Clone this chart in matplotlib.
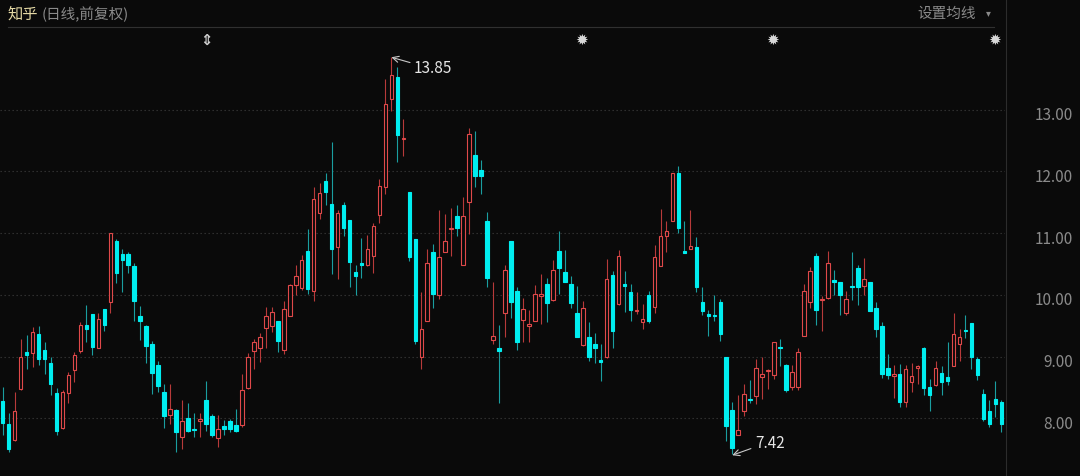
import matplotlib
matplotlib.use('Agg')
import matplotlib.pyplot as plt
from matplotlib.lines import Line2D
import matplotlib.transforms as mtransforms
import numpy as np

# ---------------- data ----------------
opens = [8.28, 7.90, 7.64, 8.48, 9.07, 9.05, 9.37, 9.10, 8.90, 8.41,
         7.84, 8.41, 8.78, 9.09, 9.51, 9.69, 9.14, 9.77, 9.89, 10.87,
         10.66, 10.66, 10.46, 9.65, 9.49, 9.20, 8.86, 8.42, 8.05, 8.14,
         7.69, 8.01, 7.83, 7.96, 8.29, 8.04, 7.68, 7.88, 7.96, 7.89,
         7.89, 8.49, 9.09, 9.13, 9.47, 9.50, 9.58, 9.11, 9.66, 10.16,
         10.11, 10.71, 10.06, 11.33, 11.84, 11.47, 10.77, 11.45, 11.22, 10.37,
         10.51, 10.48, 10.63, 11.30, 11.74, 13.17, 13.53, 12.52, 11.67, 10.91,
         9.00, 9.57, 10.69, 9.99, 10.70, 11.07, 11.28, 10.48, 11.50, 12.26,
         12.02, 11.19, 9.26, 9.13, 9.70, 10.88, 10.06, 9.59, 9.50, 9.58,
         9.98, 10.17, 9.91, 10.71, 10.37, 10.18, 9.71, 9.18, 9.32, 9.20,
         8.94, 9.00, 10.32, 9.85, 10.17, 10.04, 9.73, 9.56, 9.99, 9.81,
         10.47, 10.95, 11.20, 11.97, 10.71, 10.75, 10.77, 9.88, 9.69, 9.68,
         9.88, 8.99, 8.13, 7.73, 8.11, 8.31, 8.36, 8.66, 8.77, 8.70,
         9.16, 8.86, 8.50, 8.51, 9.34, 9.89, 10.63, 9.91, 9.95, 10.24,
         10.20, 9.70, 10.15, 10.44, 10.15, 10.20, 9.79, 9.49, 8.82, 8.69,
         8.71, 8.27, 8.59, 8.82, 9.13, 8.51, 8.53, 8.74, 8.67, 8.85,
         9.20, 9.42, 9.55, 8.96, 8.40, 8.12, 8.31, 8.26]
highs = [8.50, 8.09, 8.42, 9.28, 9.35, 9.48, 9.50, 9.24, 9.00, 8.49,
         8.45, 8.75, 9.07, 9.56, 9.83, 9.69, 9.70, 9.77, 11.00, 10.91,
         10.74, 10.70, 10.52, 9.82, 9.51, 9.25, 8.93, 8.55, 8.55, 8.15,
         8.30, 8.25, 8.08, 8.08, 8.61, 8.07, 8.05, 7.97, 7.99, 8.15,
         8.71, 9.06, 9.28, 9.38, 9.81, 9.80, 9.58, 9.90, 10.18, 10.48,
         10.65, 11.07, 11.74, 11.81, 11.98, 12.48, 11.38, 11.50, 11.22, 10.49,
         10.92, 10.97, 11.17, 11.87, 13.50, 13.85, 13.70, 12.85, 11.67, 10.91,
         10.05, 10.75, 10.83, 11.38, 11.31, 11.40, 11.46, 11.59, 12.70, 12.65,
         12.19, 11.34, 10.20, 9.51, 10.49, 10.88, 10.13, 9.95, 9.76, 10.16,
         10.34, 10.27, 10.56, 11.04, 10.73, 10.30, 10.14, 9.90, 9.56, 9.38,
         9.20, 10.58, 10.38, 10.73, 10.38, 10.18, 10.05, 9.85, 10.06, 10.81,
         11.39, 11.19, 11.98, 12.08, 11.19, 11.38, 10.94, 10.12, 9.76, 9.99,
         9.94, 8.99, 8.26, 8.37, 8.56, 8.62, 8.96, 9.00, 8.79, 9.24,
         9.29, 8.88, 8.87, 9.14, 10.18, 10.45, 10.67, 9.98, 10.71, 10.41,
         10.21, 10.06, 10.70, 10.49, 10.60, 10.20, 9.89, 9.56, 9.04, 8.86,
         8.88, 8.86, 8.89, 8.86, 9.16, 8.63, 8.93, 8.84, 9.24, 9.71,
         9.44, 9.68, 9.55, 8.99, 8.47, 8.29, 8.61, 8.30]
lows = [7.72, 7.46, 7.63, 8.46, 8.79, 8.83, 8.86, 8.71, 8.37, 7.72,
        7.83, 8.24, 8.59, 9.06, 9.24, 9.02, 9.14, 9.41, 9.71, 10.19,
        10.04, 10.36, 9.58, 9.26, 8.90, 8.40, 8.43, 7.84, 7.90, 7.45,
        7.50, 7.78, 7.69, 7.70, 7.79, 7.69, 7.54, 7.72, 7.78, 7.78,
        7.86, 8.48, 8.80, 8.91, 9.13, 9.40, 9.08, 9.04, 9.65, 10.00,
        10.08, 10.02, 9.90, 11.23, 11.45, 10.33, 10.25, 10.95, 10.13, 10.00,
        10.28, 10.47, 10.36, 11.16, 11.64, 12.98, 12.15, 12.25, 10.54, 9.21,
        8.80, 9.57, 9.78, 9.93, 10.69, 10.63, 10.96, 10.48, 10.98, 11.74,
        11.64, 10.12, 9.20, 8.24, 9.32, 9.63, 9.10, 9.23, 9.24, 9.57,
        9.53, 9.56, 9.90, 10.02, 10.20, 9.79, 9.31, 9.17, 8.92, 8.90,
        8.60, 8.98, 9.14, 9.84, 9.72, 9.57, 9.69, 9.45, 9.55, 9.70,
        10.46, 10.70, 11.19, 11.00, 10.67, 10.74, 10.05, 9.68, 9.34, 9.58,
        9.25, 7.63, 7.42, 7.73, 8.03, 8.24, 8.23, 8.31, 8.47, 8.63,
        8.84, 8.42, 8.46, 8.45, 9.34, 9.78, 9.51, 9.41, 9.94, 9.99,
        9.68, 9.68, 9.91, 9.83, 9.99, 9.73, 9.31, 8.65, 8.63, 8.33,
        8.18, 8.18, 8.42, 8.56, 8.37, 8.11, 8.52, 8.38, 8.54, 8.84,
        8.92, 9.30, 8.79, 8.62, 7.96, 7.85, 8.02, 7.78]
closes = [7.92, 7.50, 8.11, 9.00, 9.02, 9.39, 8.96, 8.96, 8.56, 7.80,
          8.42, 8.70, 9.03, 9.51, 9.45, 9.16, 9.61, 9.51, 11.00, 10.36,
          10.57, 10.48, 9.90, 9.57, 9.17, 8.73, 8.52, 8.04, 8.15, 7.77,
          7.96, 7.79, 7.81, 7.99, 7.91, 7.72, 7.82, 7.82, 7.82, 7.79,
          8.45, 8.99, 9.24, 9.31, 9.66, 9.72, 9.25, 9.77, 10.16, 10.31,
          10.56, 10.10, 11.55, 11.65, 11.67, 10.74, 11.32, 11.08, 10.53, 10.31,
          10.49, 10.74, 11.12, 11.77, 13.09, 13.57, 12.59, 12.53, 10.62, 9.25,
          9.45, 10.52, 10.02, 10.62, 10.88, 11.09, 11.08, 11.28, 12.60, 11.92,
          11.92, 10.28, 9.34, 9.09, 10.40, 9.89, 9.24, 9.77, 9.52, 10.01,
          10.01, 9.86, 10.41, 10.44, 10.20, 9.87, 9.31, 9.78, 9.00, 9.13,
          8.91, 10.26, 9.42, 10.63, 10.15, 9.75, 9.76, 9.60, 9.57, 10.62,
          10.96, 11.04, 11.97, 11.08, 10.67, 10.79, 10.13, 9.74, 9.66, 9.66,
          9.36, 7.87, 7.52, 7.81, 8.40, 8.29, 8.81, 8.71, 8.78, 9.24,
          9.14, 8.45, 8.75, 9.08, 10.06, 10.39, 9.75, 9.94, 10.52, 10.21,
          9.99, 9.93, 10.13, 10.12, 10.26, 9.73, 9.44, 8.71, 8.70, 8.71,
          8.27, 8.80, 8.69, 8.84, 8.49, 8.38, 8.82, 8.59, 8.61, 9.36,
          9.31, 9.41, 8.99, 8.70, 7.99, 7.91, 8.23, 7.91]
price_ticks = [8, 9, 10, 11, 12, 13]
title_main = '知乎'
title_sub = '(日线,前复权)'
ma_label = '设置均线'
hi_label = '13.85'
lo_label = '7.42'

# ---------------- styling ----------------
W, H = 1080, 477
BG = '#0a0a0a'
RED = '#e0494a'
RED_WICK = '#b83a3a'
CYAN = '#00eef0'
CYAN_WICK = '#1a9ea0'
CJK = ['Noto Sans CJK SC', 'DejaVu Sans']
plt.rcParams['font.family'] = CJK

fig = plt.figure(figsize=(W / 100, H / 100), dpi=100, facecolor=BG)
ax = fig.add_axes([0, 0, 1005 / W, 1])
ax.set_facecolor(BG)

px_per_unit = 61.7
y13 = 110.7
ax.set_ylim(13 - (H - y13) / px_per_unit, 13 + y13 / px_per_unit)
step = 5.98
x0 = 2.7
ax.set_xlim(-x0 / step, (1005 - x0) / step)

for s in ax.spines.values():
    s.set_visible(False)

o = np.array(opens); h = np.array(highs); l = np.array(lows); c = np.array(closes)
x = np.arange(len(o))
up = c >= o

for p in price_ticks:
    ax.axhline(p, color='#363636', lw=0.8, ls=(0, (1.2, 2.4)), zorder=0)

ax.vlines(x, l, h, colors=np.where(up, RED_WICK, CYAN_WICK), lw=0.8, zorder=2)
bottoms = np.minimum(o, c)
heights = np.maximum(np.abs(c - o), 0.015)
ax.bar(x, heights, bottom=bottoms, width=0.6,
       facecolor=np.where(up, BG, CYAN), edgecolor=np.where(up, RED, CYAN),
       linewidth=0.8, zorder=3)

ax.set_xticks([])
ax.yaxis.tick_right()
ax.set_yticks(price_ticks)
ax.set_yticklabels([f'{v:.2f}' for v in price_ticks])
ax.tick_params(axis='y', length=0, pad=49, labelsize=11, labelcolor='#8a8a8a')
offset = mtransforms.ScaledTranslation(0, -3 / 100, fig.dpi_scale_trans)
for lbl in ax.get_yticklabels():
    lbl.set_horizontalalignment('right')
    lbl.set_transform(lbl.get_transform() + offset)

# annotations for high / low
ax.annotate(hi_label, xy=(65, 13.85), xytext=(68.8, 13.676), textcoords='data',
            ha='left', va='center', color='#e6e6e6', fontsize=11,
            arrowprops=dict(arrowstyle='->', color='#c8c8c8', lw=0.8,
                            shrinkA=1, shrinkB=0, relpos=(0, 0.75)), zorder=5)
ax.annotate(lo_label, xy=(122, 7.40), xytext=(125.8, 7.614), textcoords='data',
            ha='left', va='center', color='#e6e6e6', fontsize=11,
            arrowprops=dict(arrowstyle='->', color='#c8c8c8', lw=0.8,
                            shrinkA=1, shrinkB=0, relpos=(0, 0.2)), zorder=5)

# frame lines
fig.add_artist(Line2D([8 / W, 994 / W], [1 - 28 / H, 1 - 28 / H], color='#303030', lw=0.8))
fig.add_artist(Line2D([1005.5 / W, 1005.5 / W], [0, 1], color='#2c2c2c', lw=0.8))

# header
fig.text(7 / W, 1 - 14 / H, title_main, color='#e4d8a4', fontsize=11, va='center', ha='left')
fig.text(42 / W, 1 - 14 / H, title_sub, color='#8a8a8a', fontsize=10.5, va='center', ha='left')
fig.text(917 / W, 1 - 14 / H, ma_label, color='#8a8a8a', fontsize=10.5, va='center', ha='left')
fig.text(988 / W, 1 - 13 / H, '▾', color='#8a8a8a', fontsize=7, va='center', ha='center',
         family='DejaVu Sans')

# event markers
fig.text(206 / W, 1 - 40 / H, '⇕', color='#d0d0d0', fontsize=10.5, va='center', ha='center',
         family='DejaVu Sans', fontweight='bold')
for mx in (582, 773, 995):
    fig.text(mx / W, 1 - 40 / H, '✹', color='#d8d8d8', fontsize=11, va='center', ha='center',
             family='DejaVu Sans')

fig.savefig('out.png', dpi=100, facecolor=BG)
